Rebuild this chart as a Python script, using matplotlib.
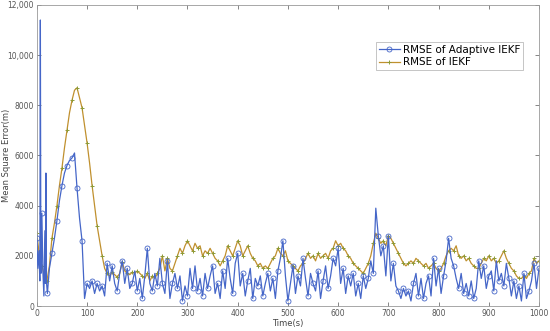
import numpy as np
import matplotlib
matplotlib.use("Agg")
import matplotlib.pyplot as plt
from matplotlib.ticker import FuncFormatter

# RMSE of IEKF, one value every 5 s (0..1000)
iekf = [
    2900, 2000, 1600, 1200, 1000, 1600, 2700, 3300, 4000, 4800,   # 0-45
    5500, 6300, 7000, 7700, 8200, 8600, 8700, 8300, 7900, 7200,   # 50-95
    6500, 5700, 4800, 4000, 3200, 2600, 2000, 1500, 1300, 1200,   # 100-145
    1350, 1250, 1150, 1300, 1750, 1400, 1300, 1250, 1350, 1300,   # 150-195
    1400, 1300, 1200, 1100, 1300, 1000, 1200, 1100, 1300, 1500,   # 200-245
    2000, 1400, 1900, 1500, 1400, 1700, 2000, 2300, 2100, 2400,   # 250-295
    2600, 2400, 2200, 2500, 2300, 2400, 2000, 2200, 2100, 2300,   # 300-345
    2100, 1900, 1800, 1600, 1800, 2000, 2400, 2200, 2000, 2300,   # 350-395
    2600, 2400, 2000, 2200, 2400, 2100, 1900, 1800, 1600, 1700,   # 400-445
    1500, 1600, 1500, 1700, 1900, 2000, 2300, 2100, 2000, 2200,   # 450-495
    1800, 1700, 1600, 1500, 1400, 1600, 1700, 1900, 2100, 1900,   # 500-545
    2000, 1800, 2100, 1900, 2000, 2100, 1900, 2200, 2300, 2600,   # 550-595
    2400, 2500, 2300, 2200, 2000, 1900, 1700, 1600, 1500, 1400,   # 600-645
    1300, 1500, 1700, 2000, 2500, 2900, 2700, 2500, 2600, 2400,   # 650-695
    2800, 2700, 2500, 2300, 2100, 1900, 1700, 1600, 1700, 1800,   # 700-745
    1700, 1900, 1800, 1700, 1600, 1700, 1500, 1600, 1700, 1500,   # 750-795
    1400, 1500, 1700, 2000, 2200, 2300, 2200, 2400, 2000, 1900,   # 800-845
    2000, 1800, 1900, 1700, 1600, 1500, 1500, 1700, 1900, 1800,   # 850-895
    2000, 1800, 1900, 1700, 1800, 2000, 2200, 1900, 1700, 1500,   # 900-945
    1400, 1200, 1100, 1100, 1200, 1100, 1300, 1400, 1900, 1700,   # 950-995
    1800,                                                         # 1000
]
t_iekf = np.arange(0, 1001, 5)

# RMSE of Adaptive IEKF: dense start, then every 5 s
t_ad_start = [0, 2, 4, 6, 7, 8, 10, 12, 14, 16, 17, 18, 19, 21]
ad_start = [2700, 1500, 2200, 1000, 11400, 1300, 3700, 1400, 400, 3000, 900, 5300, 1000, 500]

ad_rest = [
    1500, 2100, 2700, 3400, 4200, 4800, 5300, 5600, 5800, 5900, 6100, 4700, 3500, 2600, 300,   # 25-95
    900, 700, 1000, 500, 900, 600, 800, 400, 1700, 1000,      # 100-145
    1600, 900, 600, 1300, 1800, 900, 1500, 700, 900, 1400,    # 150-195
    600, 1100, 300, 1200, 2300, 900, 600, 1300, 800, 1900,    # 200-245
    900, 500, 1800, 300, 900, 1300, 700, 1200, 200, 800,      # 250-295
    400, 1500, 700, 1600, 600, 1100, 400, 1300, 700, 1200,    # 300-345
    1600, 500, 900, 300, 1400, 700, 1900, 1100, 500, 1700,    # 350-395
    2100, 800, 1300, 400, 1000, 1500, 300, 1100, 800, 1200,   # 400-445
    400, 900, 1300, 600, 1100, 300, 1400, 1900, 2600, 1200,   # 450-495
    200, 900, 1600, 500, 1200, 800, 1900, 1100, 400, 1300,    # 500-545
    900, 600, 1400, 300, 1000, 1600, 700, 1200, 1900, 1600,   # 550-595
    2300, 900, 1500, 500, 1200, 800, 1300, 400, 900, 300,     # 600-645
    1200, 700, 1100, 1800, 1300, 3900, 2800, 2000, 2400, 1200,  # 650-695
    2800, 1000, 1700, 800, 600, 300, 700, 400, 600, 200,      # 700-745
    900, 1300, 400, 1100, 300, 900, 1200, 400, 1900, 800,     # 750-795
    1500, 500, 1200, 1800, 2700, 1900, 1600, 1100, 700, 1300,  # 800-845
    500, 900, 400, 1000, 300, 700, 1800, 1100, 1600, 700,     # 850-895
    1200, 1400, 600, 1800, 1000, 1300, 800, 1700, 1100, 400,  # 900-945
    1000, 300, 800, 200, 1300, 300, 600, 1000, 1700, 700,     # 950-995
    1500,                                                     # 1000
]
t_ad = np.concatenate([t_ad_start, np.arange(25, 1001, 5)])
adaptive = np.concatenate([ad_start, ad_rest])

x_ticks = [0, 100, 200, 300, 400, 500, 600, 700, 800, 900, 1000]
y_ticks = [0, 2000, 4000, 6000, 8000, 10000, 12000]

fig = plt.figure(figsize=(5.5, 3.31), dpi=100)
ax = fig.add_axes([0.067, 0.0755, 0.913, 0.9095])

blue = "#4566c8"
orange = "#c0902e"

# circles: first few by hand, then every 10 s
ad_marks = [0, 6, 13] + list(range(15, len(t_ad), 2))

ax.plot(t_ad, adaptive, color=blue, lw=0.9, marker="o", ms=3.6, mfc="none",
        mec=blue, mew=0.6, markevery=ad_marks, label="RMSE of Adaptive IEKF", zorder=3)
ax.plot(t_iekf, iekf, color=orange, lw=0.9, marker="+", ms=3.5, mec="#8d9a35",
        mew=0.7, markevery=2, label="RMSE of IEKF", zorder=2)

ax.set_xlim(0, 1000)
ax.set_ylim(0, 12000)
ax.set_xticks(x_ticks)
ax.set_yticks(y_ticks)


def fmt_y(v, pos):
    v = int(v)
    return f"{v:,}" if v >= 10000 else str(v)


ax.yaxis.set_major_formatter(FuncFormatter(fmt_y))
ax.tick_params(direction="in", length=3, width=0.5, labelsize=5.5,
               colors="#555555", top=True, right=True, pad=2)
for s in ax.spines.values():
    s.set_color("#999999")
    s.set_linewidth(0.6)

ax.set_xlabel("Time(s)", fontsize=6, color="#444444", labelpad=1)
ax.set_ylabel("Mean Square Error(m)", fontsize=6, color="#444444")
ax.yaxis.set_label_coords(-0.052, 0.5)

leg = ax.legend(loc="upper left", bbox_to_anchor=(0.675, 0.877), fontsize=7.5,
                frameon=True, fancybox=False, edgecolor="#aaaaaa",
                handlelength=2.0, handletextpad=0.3, borderpad=0.3,
                labelspacing=0.2, borderaxespad=0)
leg.get_frame().set_linewidth(0.6)

fig.savefig("out.png", dpi=100)
